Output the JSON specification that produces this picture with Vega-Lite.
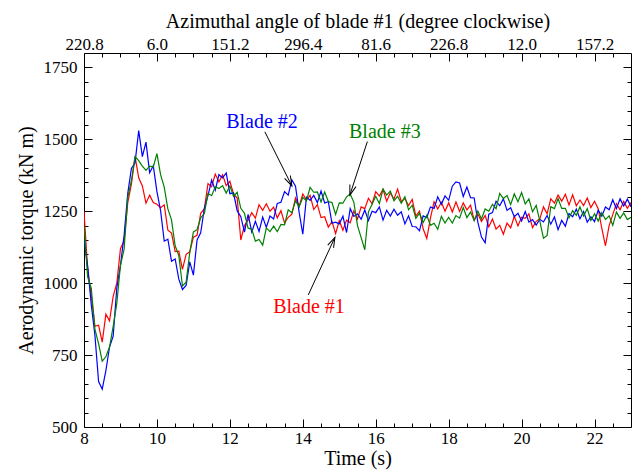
{
  "$schema": "https://vega.github.io/schema/vega-lite/v6.json",
  "width": 547,
  "height": 374,
  "autosize": {"type": "none"},
  "padding": {"left": 84, "top": 53, "right": 6, "bottom": 43},
  "background": "white",
  "config": {
    "view": {"stroke": null},
    "font": "Liberation Serif",
    "axis": {
      "labelFont": "Liberation Serif",
      "titleFont": "Liberation Serif",
      "labelFontSize": 17,
      "titleFontSize": 20,
      "titleFontWeight": "normal",
      "labelColor": "black",
      "titleColor": "black",
      "domainColor": "black",
      "tickColor": "black",
      "domainWidth": 1,
      "tickWidth": 1,
      "grid": false,
      "labelFlush": false,
      "labelOverlap": false,
      "format": "d"
    }
  },
  "datasets": {
    "torque": [
      {"t":8.0,"b1":1250,"b2":1150,"b3":1200},
      {"t":8.1,"b1":1048,"b2":1060,"b3":1022},
      {"t":8.2,"b1":956,"b2":924,"b3":982},
      {"t":8.3,"b1":850,"b2":818,"b3":839},
      {"t":8.4,"b1":854,"b2":658,"b3":790},
      {"t":8.5,"b1":795,"b2":632,"b3":729},
      {"t":8.6,"b1":892,"b2":696,"b3":744},
      {"t":8.7,"b1":869,"b2":778,"b3":778},
      {"t":8.8,"b1":954,"b2":816,"b3":850},
      {"t":8.9,"b1":1000,"b2":984,"b3":930},
      {"t":9.0,"b1":1120,"b2":1062,"b3":1062},
      {"t":9.1,"b1":1148,"b2":1166,"b3":1118},
      {"t":9.2,"b1":1280,"b2":1312,"b3":1298},
      {"t":9.3,"b1":1344,"b2":1399,"b3":1356},
      {"t":9.4,"b1":1440,"b2":1418,"b3":1440},
      {"t":9.5,"b1":1366,"b2":1530,"b3":1426},
      {"t":9.6,"b1":1338,"b2":1440,"b3":1407},
      {"t":9.7,"b1":1278,"b2":1490,"b3":1392},
      {"t":9.8,"b1":1306,"b2":1384,"b3":1407},
      {"t":9.9,"b1":1280,"b2":1408,"b3":1404},
      {"t":10.0,"b1":1274,"b2":1318,"b3":1450},
      {"t":10.1,"b1":1262,"b2":1252,"b3":1377},
      {"t":10.2,"b1":1272,"b2":1146,"b3":1334},
      {"t":10.3,"b1":1184,"b2":1153,"b3":1258},
      {"t":10.4,"b1":1174,"b2":1076,"b3":1220},
      {"t":10.5,"b1":1110,"b2":1084,"b3":1130},
      {"t":10.6,"b1":1111,"b2":1014,"b3":1096},
      {"t":10.7,"b1":1048,"b2":978,"b3":990},
      {"t":10.8,"b1":1100,"b2":992,"b3":1003},
      {"t":10.9,"b1":1109,"b2":1074,"b3":1106},
      {"t":11.0,"b1":1160,"b2":1028,"b3":1178},
      {"t":11.1,"b1":1166,"b2":1150,"b3":1186},
      {"t":11.2,"b1":1243,"b2":1175,"b3":1227},
      {"t":11.3,"b1":1258,"b2":1260,"b3":1242},
      {"t":11.4,"b1":1346,"b2":1304,"b3":1312},
      {"t":11.5,"b1":1335,"b2":1358,"b3":1304},
      {"t":11.6,"b1":1379,"b2":1323,"b3":1335},
      {"t":11.7,"b1":1352,"b2":1377,"b3":1329},
      {"t":11.8,"b1":1377,"b2":1366,"b3":1339},
      {"t":11.9,"b1":1339,"b2":1383,"b3":1313},
      {"t":12.0,"b1":1354,"b2":1311,"b3":1338},
      {"t":12.1,"b1":1310,"b2":1314,"b3":1302},
      {"t":12.2,"b1":1296,"b2":1252,"b3":1316},
      {"t":12.3,"b1":1150,"b2":1231,"b3":1260},
      {"t":12.4,"b1":1200,"b2":1177,"b3":1243},
      {"t":12.5,"b1":1219,"b2":1239,"b3":1191},
      {"t":12.6,"b1":1245,"b2":1178,"b3":1188},
      {"t":12.7,"b1":1226,"b2":1215,"b3":1146},
      {"t":12.8,"b1":1273,"b2":1180,"b3":1152},
      {"t":12.9,"b1":1253,"b2":1230,"b3":1132},
      {"t":13.0,"b1":1276,"b2":1194,"b3":1192},
      {"t":13.1,"b1":1250,"b2":1233,"b3":1179},
      {"t":13.2,"b1":1264,"b2":1223,"b3":1198},
      {"t":13.3,"b1":1227,"b2":1277,"b3":1179},
      {"t":13.4,"b1":1252,"b2":1281,"b3":1204},
      {"t":13.5,"b1":1209,"b2":1318,"b3":1203},
      {"t":13.6,"b1":1229,"b2":1306,"b3":1255},
      {"t":13.7,"b1":1240,"b2":1359,"b3":1245},
      {"t":13.8,"b1":1296,"b2":1337,"b3":1286},
      {"t":13.9,"b1":1268,"b2":1246,"b3":1265},
      {"t":14.0,"b1":1310,"b2":1170,"b3":1298},
      {"t":14.1,"b1":1289,"b2":1299,"b3":1286},
      {"t":14.2,"b1":1305,"b2":1288,"b3":1333},
      {"t":14.3,"b1":1256,"b2":1305,"b3":1316},
      {"t":14.4,"b1":1273,"b2":1280,"b3":1317},
      {"t":14.5,"b1":1228,"b2":1320,"b3":1282},
      {"t":14.6,"b1":1231,"b2":1279,"b3":1317},
      {"t":14.7,"b1":1195,"b2":1283,"b3":1284},
      {"t":14.8,"b1":1214,"b2":1208,"b3":1280},
      {"t":14.9,"b1":1172,"b2":1212,"b3":1239},
      {"t":15.0,"b1":1217,"b2":1206,"b3":1279},
      {"t":15.1,"b1":1184,"b2":1233,"b3":1278},
      {"t":15.2,"b1":1219,"b2":1176,"b3":1300},
      {"t":15.3,"b1":1210,"b2":1259,"b3":1310},
      {"t":15.4,"b1":1251,"b2":1232,"b3":1281},
      {"t":15.5,"b1":1223,"b2":1241,"b3":1200},
      {"t":15.6,"b1":1265,"b2":1222,"b3":1158},
      {"t":15.7,"b1":1259,"b2":1254,"b3":1116},
      {"t":15.8,"b1":1295,"b2":1218,"b3":1248},
      {"t":15.9,"b1":1276,"b2":1250,"b3":1274},
      {"t":16.0,"b1":1318,"b2":1245,"b3":1302},
      {"t":16.1,"b1":1303,"b2":1265,"b3":1277},
      {"t":16.2,"b1":1326,"b2":1219,"b3":1327},
      {"t":16.3,"b1":1285,"b2":1253,"b3":1306},
      {"t":16.4,"b1":1314,"b2":1233,"b3":1320},
      {"t":16.5,"b1":1292,"b2":1257,"b3":1286},
      {"t":16.6,"b1":1327,"b2":1236,"b3":1302},
      {"t":16.7,"b1":1284,"b2":1248,"b3":1278},
      {"t":16.8,"b1":1294,"b2":1206,"b3":1300},
      {"t":16.9,"b1":1270,"b2":1234,"b3":1255},
      {"t":17.0,"b1":1291,"b2":1197,"b3":1271},
      {"t":17.1,"b1":1233,"b2":1196,"b3":1225},
      {"t":17.2,"b1":1250,"b2":1182,"b3":1243},
      {"t":17.3,"b1":1189,"b2":1234,"b3":1211},
      {"t":17.4,"b1":1155,"b2":1228,"b3":1236},
      {"t":17.5,"b1":1226,"b2":1265,"b3":1201},
      {"t":17.6,"b1":1283,"b2":1260,"b3":1208},
      {"t":17.7,"b1":1258,"b2":1300,"b3":1187},
      {"t":17.8,"b1":1281,"b2":1274,"b3":1232},
      {"t":17.9,"b1":1250,"b2":1303,"b3":1209},
      {"t":18.0,"b1":1279,"b2":1288,"b3":1229},
      {"t":18.1,"b1":1247,"b2":1337,"b3":1209},
      {"t":18.2,"b1":1282,"b2":1352,"b3":1235},
      {"t":18.3,"b1":1249,"b2":1348,"b3":1226},
      {"t":18.4,"b1":1279,"b2":1301,"b3":1263},
      {"t":18.5,"b1":1255,"b2":1334,"b3":1228},
      {"t":18.6,"b1":1271,"b2":1297,"b3":1247},
      {"t":18.7,"b1":1218,"b2":1296,"b3":1218},
      {"t":18.8,"b1":1240,"b2":1212,"b3":1251},
      {"t":18.9,"b1":1214,"b2":1160,"b3":1223},
      {"t":19.0,"b1":1235,"b2":1140,"b3":1258},
      {"t":19.1,"b1":1196,"b2":1240,"b3":1250},
      {"t":19.2,"b1":1223,"b2":1245,"b3":1274},
      {"t":19.3,"b1":1188,"b2":1285,"b3":1259},
      {"t":19.4,"b1":1201,"b2":1269,"b3":1312},
      {"t":19.5,"b1":1170,"b2":1293,"b3":1294},
      {"t":19.6,"b1":1209,"b2":1253,"b3":1305},
      {"t":19.7,"b1":1192,"b2":1262,"b3":1273},
      {"t":19.8,"b1":1232,"b2":1231,"b3":1310},
      {"t":19.9,"b1":1199,"b2":1243,"b3":1283},
      {"t":20.0,"b1":1229,"b2":1216,"b3":1315},
      {"t":20.1,"b1":1225,"b2":1249,"b3":1275},
      {"t":20.2,"b1":1241,"b2":1212,"b3":1293},
      {"t":20.3,"b1":1193,"b2":1221,"b3":1248},
      {"t":20.4,"b1":1215,"b2":1202,"b3":1270},
      {"t":20.5,"b1":1224,"b2":1222,"b3":1216},
      {"t":20.6,"b1":1265,"b2":1213,"b3":1156},
      {"t":20.7,"b1":1241,"b2":1235,"b3":1166},
      {"t":20.8,"b1":1293,"b2":1205,"b3":1266},
      {"t":20.9,"b1":1278,"b2":1230,"b3":1259},
      {"t":21.0,"b1":1306,"b2":1186,"b3":1294},
      {"t":21.1,"b1":1285,"b2":1218,"b3":1260},
      {"t":21.2,"b1":1309,"b2":1198,"b3":1260},
      {"t":21.3,"b1":1272,"b2":1242,"b3":1227},
      {"t":21.4,"b1":1307,"b2":1231,"b3":1252},
      {"t":21.5,"b1":1269,"b2":1258,"b3":1236},
      {"t":21.6,"b1":1289,"b2":1224,"b3":1265},
      {"t":21.7,"b1":1270,"b2":1249,"b3":1233},
      {"t":21.8,"b1":1296,"b2":1212,"b3":1259},
      {"t":21.9,"b1":1263,"b2":1231,"b3":1218},
      {"t":22.0,"b1":1285,"b2":1214,"b3":1241},
      {"t":22.1,"b1":1259,"b2":1254,"b3":1216},
      {"t":22.2,"b1":1190,"b2":1233,"b3":1245},
      {"t":22.3,"b1":1130,"b2":1265,"b3":1221},
      {"t":22.4,"b1":1200,"b2":1255,"b3":1234},
      {"t":22.5,"b1":1238,"b2":1290,"b3":1201},
      {"t":22.6,"b1":1276,"b2":1259,"b3":1247},
      {"t":22.7,"b1":1255,"b2":1293,"b3":1225},
      {"t":22.8,"b1":1284,"b2":1268,"b3":1244},
      {"t":22.9,"b1":1260,"b2":1292,"b3":1221},
      {"t":23.0,"b1":1280,"b2":1266,"b3":1229}
    ],
    "labels": [
      {"t":12.88,"v":1560,"blade":"Blade #2"},
      {"t":16.25,"v":1525,"blade":"Blade #3"},
      {"t":14.17,"v":917,"blade":"Blade #1"}
    ],
    "arrows": [
      {"t1":12.96,"v1":1526,"t2":13.70,"v2":1338,"ang":154},
      {"t1":15.77,"v1":1492,"t2":15.29,"v2":1306,"ang":198},
      {"t1":14.15,"v1":959,"t2":14.88,"v2":1159,"ang":25}
    ]
  },
  "resolve": {"axis": {"x": "independent", "y": "independent"}},
  "layer": [
    {
      "data": {"name": "torque"},
      "mark": {"type": "line", "color": "#ff0000", "strokeWidth": 1.2, "clip": true},
      "encoding": {
        "x": {"field": "t", "type": "quantitative", "scale": {"domain": [8, 23], "nice": false, "zero": false},
          "axis": {"orient": "bottom", "values": [8, 10, 12, 14, 16, 18, 20, 22], "format": "d", "labelFont": "Liberation Serif", "labelFontSize": 17, "tickSize": -8, "labelPadding": 11, "title": "Time (s)", "titleFont": "Liberation Serif", "titlePadding": 2}},
        "y": {"field": "b1", "type": "quantitative", "scale": {"domain": [500, 1800], "nice": false, "zero": false},
          "axis": {"orient": "left", "values": [500, 750, 1000, 1250, 1500, 1750], "format": "d", "labelFont": "Liberation Serif", "labelFontSize": 17, "tickSize": -8, "labelPadding": 15, "title": "Aerodynamic torque (kN m)", "titleFont": "Liberation Serif", "titlePadding": 7}}
      }
    },
    {
      "data": {"name": "torque"},
      "mark": {"type": "line", "color": "#0000ff", "strokeWidth": 1.2, "clip": true},
      "encoding": {
        "x": {"field": "t", "type": "quantitative", "scale": {"domain": [8, 23], "nice": false, "zero": false},
          "axis": {"orient": "bottom", "values": [8.5, 9, 9.5, 10.5, 11, 11.5, 12.5, 13, 13.5, 14.5, 15, 15.5, 16.5, 17, 17.5, 18.5, 19, 19.5, 20.5, 21, 21.5, 22.5], "tickSize": -4, "labels": false, "domain": false, "title": null}},
        "y": {"field": "b2", "type": "quantitative", "scale": {"domain": [500, 1800], "nice": false, "zero": false},
          "axis": {"orient": "left", "values": [550, 600, 650, 700, 800, 850, 900, 950, 1050, 1100, 1150, 1200, 1300, 1350, 1400, 1450, 1550, 1600, 1650, 1700], "tickSize": -4, "labels": false, "domain": false, "title": null}}
      }
    },
    {
      "data": {"name": "torque"},
      "mark": {"type": "line", "color": "#008000", "strokeWidth": 1.2, "clip": true},
      "encoding": {
        "x": {"field": "t", "type": "quantitative", "scale": {"domain": [8, 23], "nice": false, "zero": false},
          "axis": {"orient": "top", "values": [8, 10, 12, 14, 16, 18, 20, 22], "tickSize": -8, "labelPadding": 8, "labelFont": "Liberation Serif", "labelFontSize": 17,
            "labelExpr": "datum.value == 8 ? '220.8' : datum.value == 10 ? '6.0' : datum.value == 12 ? '151.2' : datum.value == 14 ? '296.4' : datum.value == 16 ? '81.6' : datum.value == 18 ? '226.8' : datum.value == 20 ? '12.0' : '157.2'",
            "title": "Azimuthal angle of blade #1 (degree clockwise)", "titleFont": "Liberation Serif", "titlePadding": 4}},
        "y": {"field": "b3", "type": "quantitative", "scale": {"domain": [500, 1800], "nice": false, "zero": false},
          "axis": {"orient": "right", "values": [500, 750, 1000, 1250, 1500, 1750], "tickSize": -8, "labels": false, "title": null}}
      }
    },
    {
      "data": {"name": "arrows"},
      "mark": {"type": "rule", "color": "black", "strokeWidth": 1},
      "encoding": {
        "x": {"field": "t1", "type": "quantitative", "scale": {"domain": [8, 23], "nice": false, "zero": false},
          "axis": {"orient": "top", "values": [8.5, 9, 9.5, 10.5, 11, 11.5, 12.5, 13, 13.5, 14.5, 15, 15.5, 16.5, 17, 17.5, 18.5, 19, 19.5, 20.5, 21, 21.5, 22.5], "tickSize": -4, "labels": false, "domain": false, "title": null}},
        "x2": {"field": "t2"},
        "y": {"field": "v1", "type": "quantitative", "scale": {"domain": [500, 1800], "nice": false, "zero": false},
          "axis": {"orient": "right", "values": [550, 600, 650, 700, 800, 850, 900, 950, 1050, 1100, 1150, 1200, 1300, 1350, 1400, 1450, 1550, 1600, 1650, 1700], "tickSize": -4, "labels": false, "domain": false, "title": null}},
        "y2": {"field": "v2"}
      }
    },
    {
      "data": {"name": "arrows"},
      "mark": {"type": "point", "shape": "M -0.32 1 L 0 0 L 0.32 1", "filled": false, "color": "black", "strokeWidth": 1, "size": 400, "opacity": 1},
      "encoding": {
        "x": {"field": "t2", "type": "quantitative", "scale": {"domain": [8, 23], "nice": false, "zero": false}, "axis": null},
        "y": {"field": "v2", "type": "quantitative", "scale": {"domain": [500, 1800], "nice": false, "zero": false}, "axis": null},
        "angle": {"field": "ang", "type": "quantitative", "scale": null}
      }
    },
    {
      "data": {"name": "labels"},
      "mark": {"type": "text", "font": "Liberation Serif", "fontSize": 20, "align": "center", "baseline": "middle"},
      "encoding": {
        "x": {"field": "t", "type": "quantitative", "scale": {"domain": [8, 23], "nice": false, "zero": false}, "axis": null},
        "y": {"field": "v", "type": "quantitative", "scale": {"domain": [500, 1800], "nice": false, "zero": false}, "axis": null},
        "text": {"field": "blade"},
        "color": {"field": "blade", "type": "nominal", "scale": {"domain": ["Blade #1", "Blade #2", "Blade #3"], "range": ["#ff0000", "#0000ff", "#008000"]}, "legend": null}
      }
    }
  ]
}
